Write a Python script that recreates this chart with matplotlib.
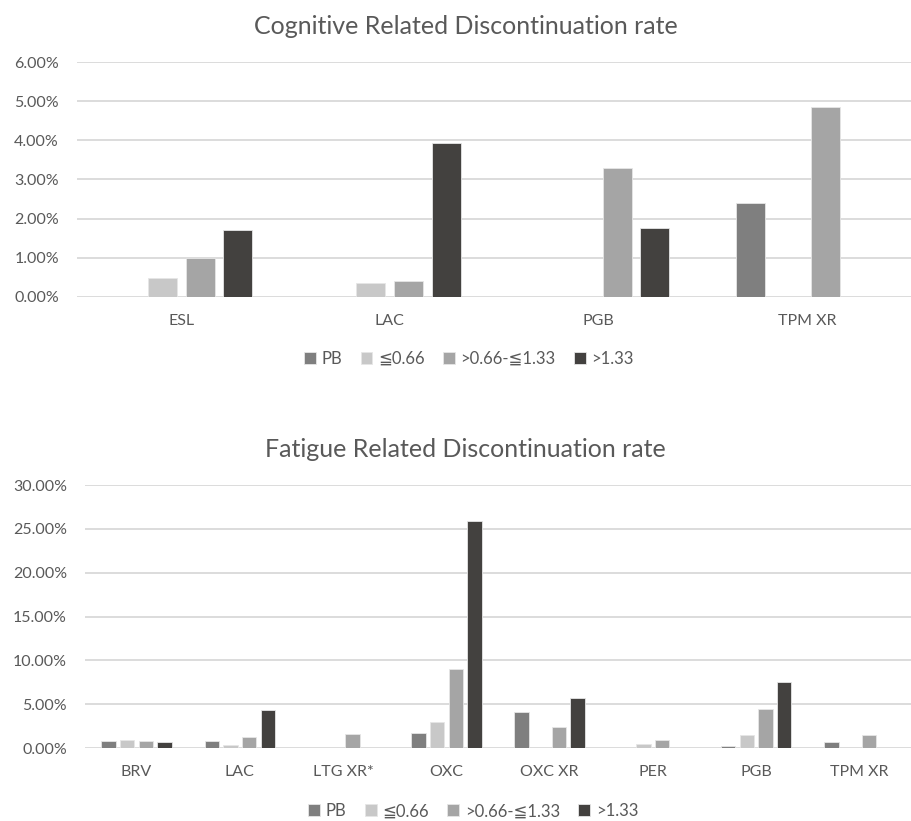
import numpy as np
import matplotlib.pyplot as plt
from matplotlib.ticker import FuncFormatter

# series names and colours (Excel grey scale)
series = ['PB', '≦0.66', '>0.66-≦1.33', '>1.33']
couleurs = ['#7f7f7f', '#c8c8c8', '#a5a5a5', '#43413f']

# Cognitive chart (values in %)
cog_cats = ['ESL', 'LAC', 'PGB', 'TPM XR']
cog_pb = [0, 0, 0, 2.39]
cog_low = [0.49, 0.36, 0, 0]
cog_mid = [1.0, 0.42, 3.29, 4.84]
cog_high = [1.70, 3.94, 1.77, 0]

# Fatigue chart (values in %)
fat_cats = ['BRV', 'LAC', 'LTG XR*', 'OXC', 'OXC XR', 'PER', 'PGB', 'TPM XR']
fat_pb = [0.84, 0.76, 0, 1.68, 4.12, 0, 0.27, 0.73]
fat_low = [0.95, 0.30, 0, 2.94, 0, 0.50, 1.53, 0]
fat_mid = [0.84, 1.26, 1.64, 9.02, 2.40, 0.88, 4.50, 1.53]
fat_high = [0.73, 4.39, 0, 25.87, 5.65, 0, 7.56, 0]

texte = '#595959'
grille = '#d9d9d9'
plt.rcParams['font.family'] = ['Lato', 'DejaVu Sans']


def graphique(ax, cats, valeurs, ymax, pas, titre, titre_x, leg_y):
    x = np.arange(len(cats))
    step = 0.181
    largeur = 0.139
    for i, v in enumerate(valeurs):
        ax.bar(x + (i - 1.5) * step, v, largeur, color=couleurs[i],
               edgecolor='#e6e6e6', linewidth=0.6, label=series[i], zorder=3)
    ax.set_xlim(-0.5, len(cats) - 0.5)
    ax.set_ylim(0, ymax)
    ax.set_yticks(np.arange(0, ymax + pas / 2, pas))
    ax.yaxis.set_major_formatter(FuncFormatter(lambda v, p: '%.2f%%' % v))
    ax.set_xticks(x)
    ax.set_xticklabels(cats)
    ax.grid(axis='y', color=grille, linewidth=1.3, zorder=0)
    for s in ax.spines.values():
        s.set_visible(False)
    ax.tick_params(length=0, colors=texte, labelsize=11.5)
    ax.tick_params(axis='x', pad=12)
    ax.tick_params(axis='y', pad=13)
    ax.set_title(titre, color=texte, fontsize=18, pad=20, x=titre_x)
    ax.legend(loc='center', bbox_to_anchor=(0.47, leg_y), ncol=4, frameon=False,
              fontsize=12, labelcolor=texte, handlelength=0.7, handleheight=0.7,
              handletextpad=0.35, columnspacing=1.1)


fig = plt.figure(figsize=(9.11, 8.21), dpi=100)
ax1 = fig.add_axes([77 / 911, 524 / 821, 1 - 77 / 911, 235 / 821])
ax2 = fig.add_axes([85 / 911, 73 / 821, 1 - 85 / 911, 263 / 821])

graphique(ax1, cog_cats, [cog_pb, cog_low, cog_mid, cog_high], 6, 1,
          'Cognitive Related Discontinuation rate', 0.466, -0.264)
graphique(ax2, fat_cats, [fat_pb, fat_low, fat_mid, fat_high], 30, 5,
          'Fatigue Related Discontinuation rate', 0.461, -0.24)

fig.savefig('out.png', dpi=100)
